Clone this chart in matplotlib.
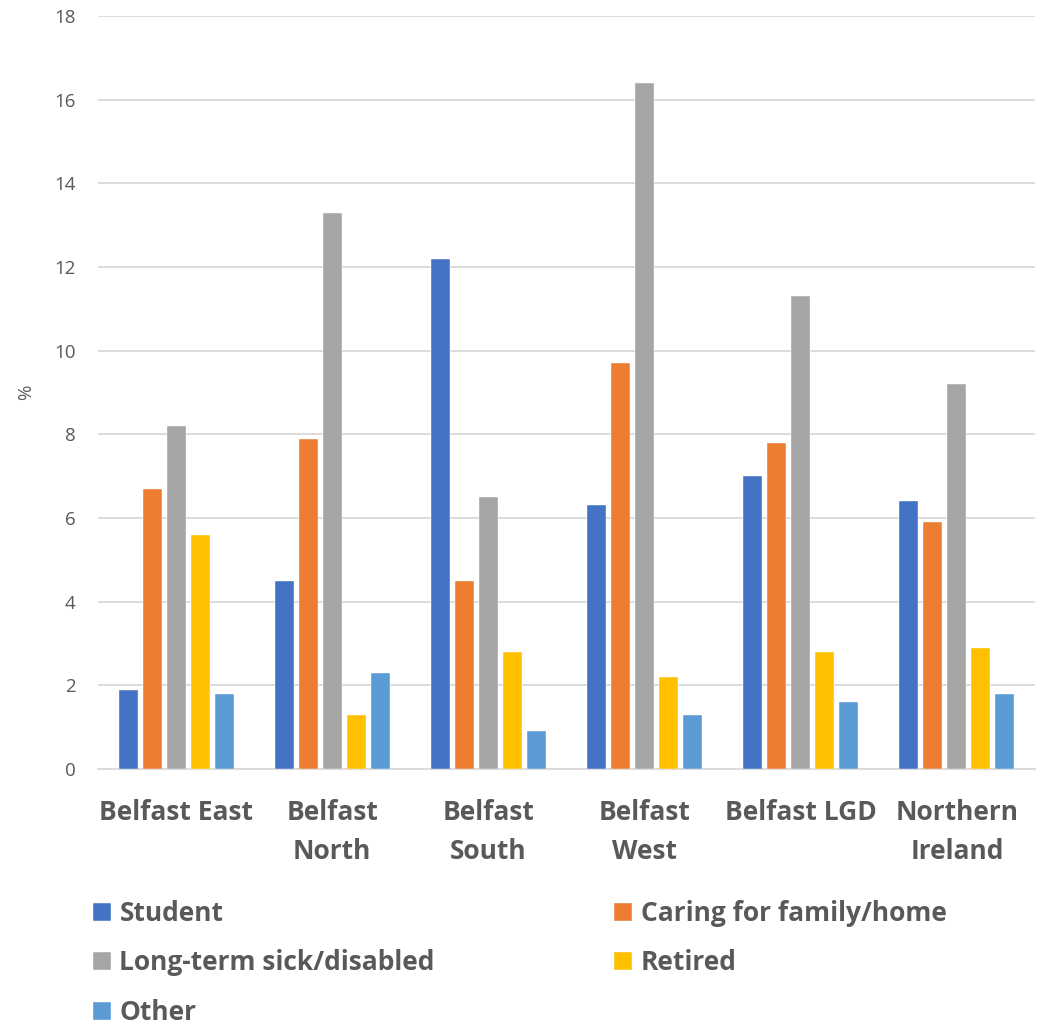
import matplotlib
matplotlib.use("Agg")
import matplotlib.pyplot as plt
import numpy as np

categories = ["Belfast East", "Belfast\nNorth", "Belfast\nSouth", "Belfast\nWest", "Belfast LGD", "Northern\nIreland"]
series_names = ["Student", "Caring for family/home", "Long-term sick/disabled", "Retired", "Other"]
student = [1.9, 4.5, 12.2, 6.3, 7.0, 6.4]
caring = [6.7, 7.9, 4.5, 9.7, 7.8, 5.9]
sick = [8.2, 13.3, 6.5, 16.4, 11.3, 9.2]
retired = [5.6, 1.3, 2.8, 2.2, 2.8, 2.9]
other = [1.8, 2.3, 0.9, 1.3, 1.6, 1.8]
colors = ["#4472C4", "#ED7D31", "#A5A5A5", "#FFC000", "#5B9BD5"]
yticks = [0, 2, 4, 6, 8, 10, 12, 14, 16, 18]

FONT = ['Open Sans', 'DejaVu Sans']
plt.rcParams['font.family'] = FONT
text_color = "#595959"

fig = plt.figure(figsize=(10.5, 10.25), dpi=100)
ax = fig.add_axes([98/1050, 1-769/1025, (1035-98)/1050, (769-16)/1025])

x = np.arange(len(categories))
step = 0.1537
width = 0.1216
all_series = [student, caring, sick, retired, other]
handles = []
for i, (vals, name, c) in enumerate(zip(all_series, series_names, colors)):
    b = ax.bar(x + (i - 2) * step, vals, width, color=c, label=name, zorder=3,
               edgecolor="white", linewidth=0.3)
    handles.append(b)

ax.set_xlim(-0.5, len(categories) - 0.5)
ax.set_ylim(0, 18)
ax.set_yticks(yticks)
ax.set_yticklabels([str(t) for t in yticks], fontsize=13.5, color=text_color)
ax.set_xticks(x)
ax.set_xticklabels(categories, fontsize=19, fontweight='bold', color=text_color, linespacing=1.58)
ax.tick_params(axis='y', length=0, pad=16)
ax.tick_params(axis='x', length=0, pad=21.5)
ax.grid(axis='y', color="#D9D9D9", linewidth=1.3, zorder=0)
for s in ["top", "right", "left"]:
    ax.spines[s].set_visible(False)
ax.spines["bottom"].set_color("#D9D9D9")
ax.spines["bottom"].set_linewidth(1.3)
ax.set_ylabel("%", fontsize=13.5, color=text_color, labelpad=14)

# legend filled row-wise as in reference
order = [0, 2, 4, 1, 3]
leg = fig.legend([handles[i] for i in order], [series_names[i] for i in order],
                 loc='upper left', ncol=2,
                 bbox_to_anchor=(93/1050, 1-900/1025), frameon=False,
                 prop={'family': FONT, 'weight': 'bold', 'size': 19},
                 handlelength=0.68, handleheight=0.68, handletextpad=0.32,
                 labelspacing=0.85, columnspacing=6.8, borderaxespad=0, borderpad=0)
for t in leg.get_texts():
    t.set_color(text_color)

fig.savefig("out.png", dpi=100)
